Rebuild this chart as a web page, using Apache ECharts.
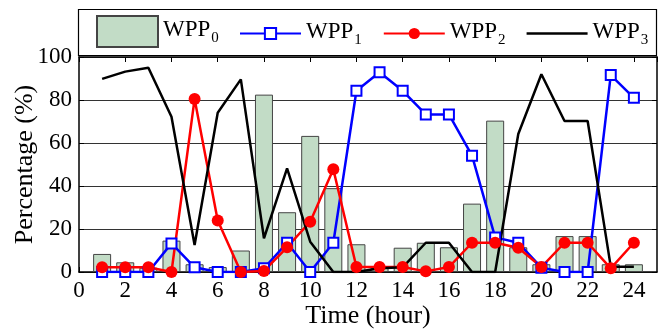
<!DOCTYPE html>
<html>
<head>
<meta charset="utf-8">
<script src="https://cdn.jsdelivr.net/npm/echarts@6/dist/echarts.min.js"></script>
<style>
  html, body { margin: 0; padding: 0; background: #fff; }
  #chart { width: 663px; height: 330px; }
</style>
</head>
<body>
<div id="chart"></div>
<script>
// 数据：每小时各方案的百分比
const hours = [1, 2, 3, 4, 5, 6, 7, 8, 9, 10, 11, 12, 13, 14, 15, 16, 17, 18, 19, 20, 21, 22, 23, 24]
const wpp0 = [8.4, 4.5, 2, 14.6, 3.6, 2.3, 10, 82.5, 27.8, 63.3, 39, 12.9, 2, 11.3, 13.6, 11.5, 31.8, 70.4, 11.5, 3.6, 16.7, 16.7, 3.6, 3.6]
const wpp1 = [0, 0, 0, 13.3, 2.2, 0, 0, 1.7, 13.6, 0, 13.6, 84.3, 92.9, 84.3, 73.3, 73.3, 54.1, 16.1, 13.6, 2, 0, 0, 91.6, 81]
const wpp2 = [2.2, 2.2, 2.2, 0, 80.5, 24, 0, 0.5, 11.5, 23.4, 47.8, 2.3, 2.3, 2.3, 0.3, 2.3, 13.6, 13.6, 11.3, 2.3, 13.6, 13.6, 1.7, 13.6]
const wpp3 = [89.8, 93.2, 95, 72.2, 12.6, 74.1, 89.6, 15.7, 48.2, 14.1, 0, 0, 1.7, 2.2, 13.6, 13.6, 0, 0, 64.2, 92, 70.2, 70.2, 2.5, 2.5]
const xTicks = [0, 2, 4, 6, 8, 10, 12, 14, 16, 18, 20, 22, 24]
const yTicks = [0, 20, 40, 60, 80, 100]

const pair = (arr) => hours.map((h, i) => [h, arr[i]])
const font = 'Liberation Serif'

// 图例文字：WPP + 下标
const legendText = {
  fontFamily: font,
  fontSize: 23,
  color: '#000',
  rich: {
    m: { fontFamily: font, fontSize: 23, color: '#000', padding: [0, 0, 4, 0] },
    s: { fontFamily: font, fontSize: 15, color: '#000', padding: [14, 0, 0, 1] }
  }
}
const legendFormatter = (name) => '{m|WPP}{s|' + name.slice(3) + '}'

// 四周的边框坐标轴
const frameAxis = {
  axisLine: { show: true, onZero: false, lineStyle: { color: '#000', width: 1.5 } },
  axisTick: { show: true, inside: true, length: 5, lineStyle: { color: '#000' } }
}

const chart = echarts.init(document.getElementById('chart'))
const option = {
  animation: false,
  textStyle: { fontFamily: font },
  grid: { left: 79, right: 6, top: 57, bottom: 58, outerBoundsMode: 'none', containLabel: false },
  graphic: [
    {
      type: 'rect',
      shape: { x: 78.5, y: 9.5, width: 578, height: 46 },
      style: { fill: '#fff', stroke: '#000', lineWidth: 1.2 },
      z: -1
    }
  ],
  legend: [
    {
      left: 91,
      top: 10,
      itemWidth: 61,
      itemHeight: 31,
      textStyle: legendText,
      formatter: legendFormatter,
      data: [{ name: 'WPP0', icon: 'rect' }]
    },
    {
      left: 234,
      top: 15,
      itemWidth: 61,
      itemHeight: 14,
      itemGap: 21,
      textStyle: legendText,
      formatter: legendFormatter,
      data: [
        { name: 'WPP1' },
        { name: 'WPP2' },
        { name: 'WPP3', icon: 'path://M0,0 L60,0 L60,2.5 L0,2.5 Z' }
      ]
    }
  ],
  xAxis: [
    {
      type: 'value',
      min: 0,
      max: 25,
      interval: 2,
      name: 'Time (hour)',
      nameLocation: 'middle',
      nameGap: 31,
      nameMoveOverlap: false,
      nameTextStyle: { fontFamily: font, fontSize: 26, color: '#000' },
      ...frameAxis,
      axisLabel: {
        fontFamily: font, fontSize: 23, color: '#000', margin: 7, showMaxLabel: false,
        formatter: (v) => (xTicks.includes(v) ? String(v) : '')
      },
      splitLine: { show: false }
    },
    {
      type: 'value',
      position: 'top',
      min: 0,
      max: 25,
      interval: 2,
      ...frameAxis,
      axisLabel: { show: false },
      splitLine: { show: false }
    }
  ],
  yAxis: [
    {
      type: 'value',
      min: 0,
      max: 100,
      interval: 20,
      name: 'Percentage (%)',
      nameLocation: 'middle',
      nameGap: 41,
      nameMoveOverlap: false,
      nameTextStyle: { fontFamily: font, fontSize: 26, color: '#000' },
      ...frameAxis,
      axisLabel: {
        fontFamily: font, fontSize: 23, color: '#000', margin: 7,
        formatter: (v) => (yTicks.includes(v) ? String(v) : '')
      },
      splitLine: { show: true, lineStyle: { color: '#333', width: 1 } }
    },
    {
      type: 'value',
      position: 'right',
      min: 0,
      max: 100,
      interval: 20,
      ...frameAxis,
      axisLabel: { show: false },
      splitLine: { show: false }
    }
  ],
  series: [
    {
      name: 'WPP0',
      type: 'bar',
      data: pair(wpp0),
      barWidth: 18,
      itemStyle: { color: '#c2dcc6', borderColor: '#444', borderWidth: 1 }
    },
    {
      name: 'WPP1',
      type: 'line',
      data: pair(wpp1),
      symbol: 'emptyRect',
      symbolSize: 10,
      lineStyle: { color: '#0000ff', width: 2.5 },
      itemStyle: { color: '#0000ff', borderWidth: 2 }
    },
    {
      name: 'WPP2',
      type: 'line',
      data: pair(wpp2),
      symbol: 'circle',
      symbolSize: 12,
      lineStyle: { color: '#ff0000', width: 2.5 },
      itemStyle: { color: '#ff0000' }
    },
    {
      name: 'WPP3',
      type: 'line',
      data: pair(wpp3),
      symbol: 'none',
      lineStyle: { color: '#000', width: 2.5 },
      itemStyle: { color: '#000' }
    }
  ]
}
chart.setOption(option)
</script>
</body>
</html>
